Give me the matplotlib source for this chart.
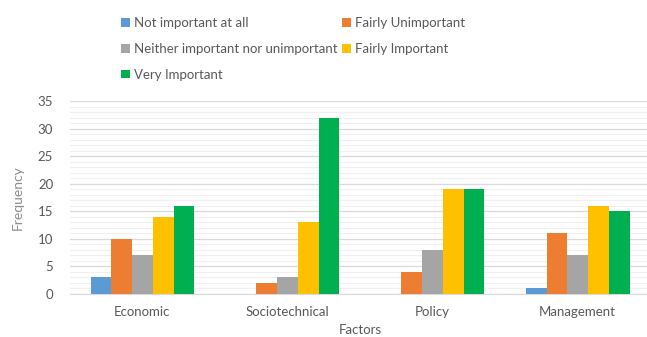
import matplotlib
matplotlib.use("Agg")
import matplotlib.pyplot as plt
import numpy as np
from matplotlib.ticker import MultipleLocator

plt.rcParams['font.family'] = ['Lato', 'DejaVu Sans']

categories = ["Economic", "Sociotechnical", "Policy", "Management"]
series_names = ["Not important at all", "Fairly Unimportant",
                "Neither important nor unimportant", "Fairly Important",
                "Very Important"]
not_important = [3, 0, 0, 1]
fairly_unimportant = [10, 2, 4, 11]
neither = [7, 3, 8, 7]
fairly_important = [14, 13, 19, 16]
very_important = [16, 32, 19, 15]
series_values = [not_important, fairly_unimportant, neither,
                 fairly_important, very_important]
colors = ["#5B9BD5", "#ED7D31", "#A5A5A5", "#FFC000", "#00B050"]

fig = plt.figure(figsize=(6.47, 3.37), dpi=100)
ax = fig.add_axes([0.108, 0.1276, 0.897, 0.5724])

x = np.arange(len(categories))
bw = 0.143
handles = []
for i, (vals, col) in enumerate(zip(series_values, colors)):
    b = ax.bar(x + (i - 2) * bw, vals, width=bw, color=col, zorder=3,
               label=series_names[i])
    handles.append(b)

ax.set_xlim(-0.5, len(categories) - 0.5)
ax.set_ylim(0, 35)
ax.yaxis.set_major_locator(MultipleLocator(5))
ax.yaxis.set_minor_locator(MultipleLocator(1))
ax.grid(axis='y', which='major', color='#D9D9D9', linewidth=0.9, zorder=0)
ax.grid(axis='y', which='minor', color='#F0F0F0', linewidth=0.8, zorder=0)
for s in ['top', 'right', 'left']:
    ax.spines[s].set_visible(False)
ax.spines['bottom'].set_color('#D9D9D9')
ax.tick_params(axis='both', which='both', length=0, colors='#595959',
               labelsize=9.5)
ax.tick_params(axis='x', pad=9)
ax.tick_params(axis='y', pad=12)
ax.set_xticks(x)
ax.set_xticklabels(categories)

ax.set_ylabel("Frequency", color='#8C8C8C', fontsize=10, labelpad=10)
ax.set_xlabel("Factors", color='#595959', fontsize=9.5, labelpad=4)

# legend filled row by row: two columns, five entries
order = [0, 2, 4, 1, 3]
leg = fig.legend([handles[i] for i in order], [series_names[i] for i in order],
                 ncol=2, loc='upper left', bbox_to_anchor=(0.169, 0.985),
                 frameon=False, fontsize=9.5, handlelength=0.65,
                 handleheight=0.65, handletextpad=0.3, columnspacing=0.35,
                 labelspacing=1.05, labelcolor='#595959')

fig.savefig("out.png", dpi=100)
